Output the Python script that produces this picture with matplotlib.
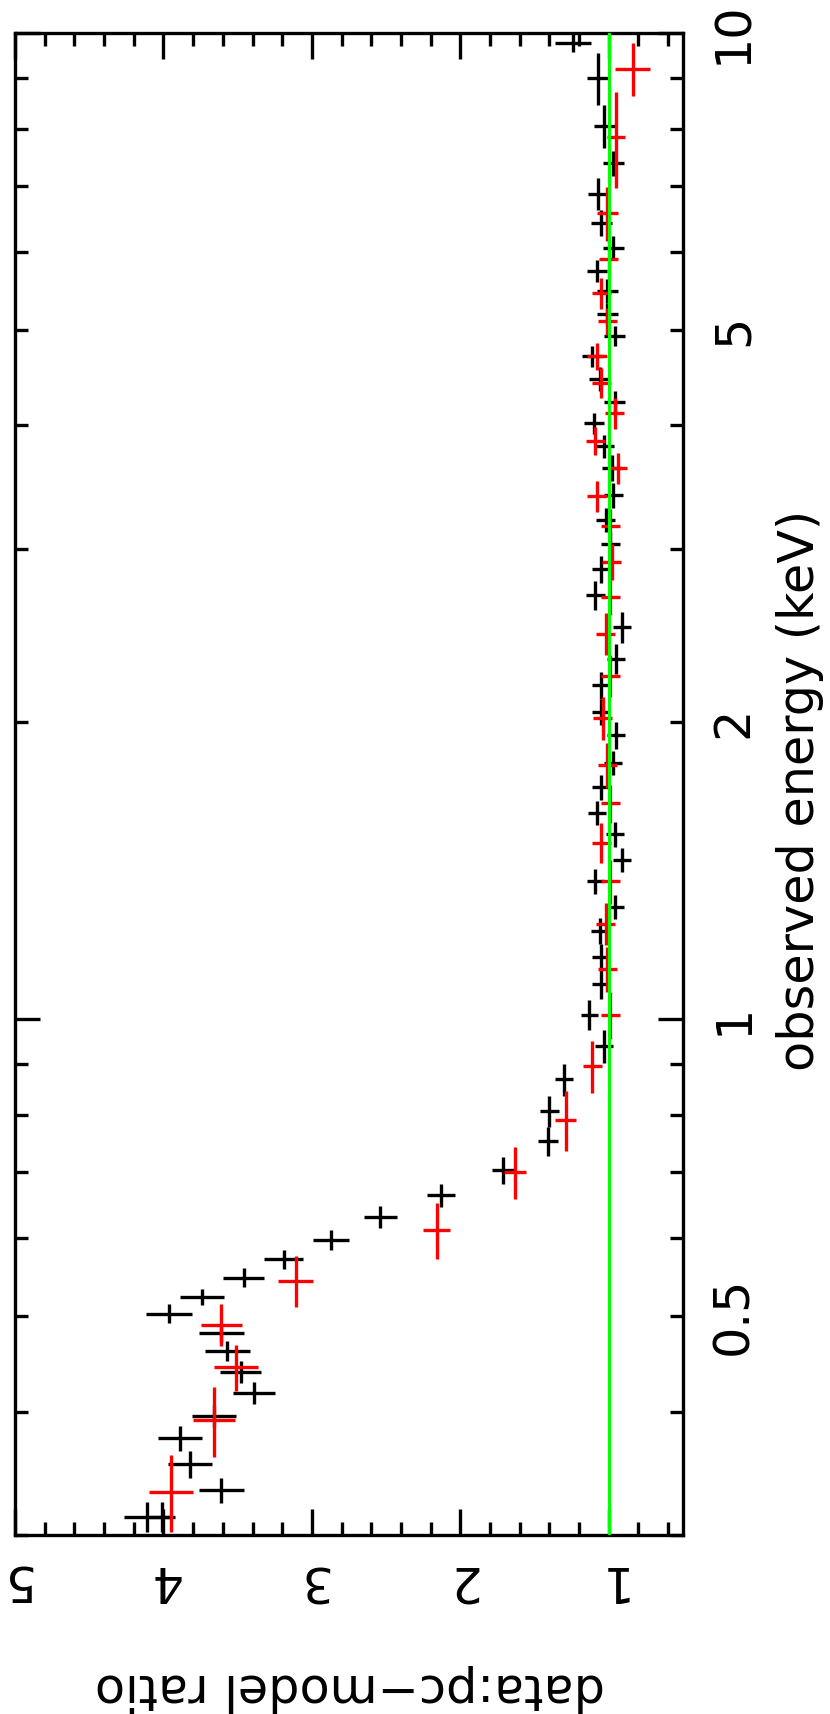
import matplotlib
matplotlib.use('Agg')
import matplotlib.pyplot as plt
from matplotlib.ticker import FixedLocator, FuncFormatter, NullFormatter

plt.rcParams['font.family'] = ['DejaVu Sans']

# black data set: energy (keV), energy half-width, data/model ratio, ratio error
black_energy = [0.313, 0.313, 0.333, 0.354, 0.376, 0.396, 0.418, 0.439, 0.461, 0.481,
                0.503, 0.523, 0.547, 0.571, 0.598, 0.630, 0.663, 0.703, 0.752, 0.807,
                0.869, 0.939, 1.01, 1.085, 1.156, 1.23, 1.30, 1.38, 1.45, 1.54,
                1.62, 1.72, 1.82, 1.94, 2.05, 2.18, 2.32, 2.50, 2.69, 2.86,
                3.03, 3.21, 3.40, 3.62, 3.81, 4.02, 4.23, 4.46, 4.70, 4.93,
                5.19, 5.48, 5.74, 6.06, 6.42, 6.87, 7.38, 8.05, 9.0, 9.77]
black_energy_err = [0.011, 0.011, 0.010, 0.011, 0.011, 0.010, 0.011, 0.011, 0.011, 0.010,
                    0.011, 0.010, 0.012, 0.013, 0.014, 0.016, 0.018, 0.022, 0.026, 0.029,
                    0.032, 0.036, 0.035, 0.036, 0.036, 0.037, 0.037, 0.04, 0.04, 0.045,
                    0.045, 0.05, 0.05, 0.06, 0.06, 0.07, 0.08, 0.09, 0.09, 0.09,
                    0.09, 0.09, 0.10, 0.11, 0.10, 0.10, 0.11, 0.12, 0.12, 0.12,
                    0.14, 0.15, 0.15, 0.17, 0.2, 0.25, 0.22, 0.4, 0.55, 0.2]
black_ratio = [4.11, 4.01, 3.61, 3.82, 3.89, 3.66, 3.39, 3.48, 3.57, 3.61,
               3.96, 3.74, 3.46, 3.19, 2.87, 2.54, 2.13, 1.71, 1.41, 1.40,
               1.30, 1.03, 1.13, 1.05, 1.05, 1.06, 0.96, 1.09, 0.91, 0.96,
               1.08, 1.05, 0.97, 0.95, 1.05, 1.05, 0.95, 0.91, 1.09, 1.05,
               0.99, 1.02, 0.97, 0.98, 1.03, 1.10, 0.96, 1.06, 1.11, 0.96,
               1.01, 1.01, 1.08, 0.97, 1.05, 1.07, 0.97, 1.03, 1.07, 1.24]
black_ratio_err = [0.155, 0.09, 0.15, 0.15, 0.15, 0.15, 0.14, 0.14, 0.15, 0.15,
                   0.155, 0.15, 0.14, 0.13, 0.12, 0.11, 0.095, 0.08, 0.07, 0.065,
                   0.06, 0.06, 0.057, 0.06, 0.06, 0.06, 0.06, 0.06, 0.06, 0.06,
                   0.06, 0.063, 0.06, 0.06, 0.06, 0.06, 0.06, 0.06, 0.065, 0.065,
                   0.065, 0.065, 0.065, 0.065, 0.065, 0.07, 0.07, 0.07, 0.07, 0.07,
                   0.07, 0.07, 0.07, 0.07, 0.07, 0.07, 0.07, 0.07, 0.08, 0.12]

# red data set
red_energy = [0.332, 0.392, 0.444, 0.490, 0.543, 0.611, 0.70, 0.79, 0.896,
              1.01, 1.125, 1.25, 1.38, 1.51, 1.655, 1.81, 2.02,
              2.23, 2.46, 2.68, 2.91, 3.16, 3.39, 3.62, 3.86,
              4.12, 4.42, 4.70, 5.10, 5.45, 5.90, 6.57, 7.84, 9.20]
red_energy_err = [0.03, 0.032, 0.024, 0.024, 0.032, 0.04, 0.043, 0.055, 0.055,
                  0.056, 0.06, 0.062, 0.07, 0.07, 0.075, 0.095, 0.1,
                  0.11, 0.12, 0.11, 0.12, 0.13, 0.12, 0.13, 0.13,
                  0.15, 0.15, 0.15, 0.16, 0.2, 0.26, 0.41, 0.87, 0.57]
red_ratio = [3.95, 3.66, 3.51, 3.61, 3.11, 2.16, 1.63, 1.29, 1.11,
             0.99, 1.01, 1.02, 0.99, 1.05, 0.99, 1.01, 1.04,
             0.99, 1.02, 0.99, 0.98, 0.99, 1.08, 0.94, 1.09,
             0.96, 1.05, 1.08, 1.01, 1.05, 1.00, 1.01, 0.95, 0.84]
red_ratio_err = [0.15, 0.14, 0.15, 0.14, 0.12, 0.09, 0.075, 0.07, 0.065,
                 0.065, 0.065, 0.065, 0.065, 0.065, 0.065, 0.065, 0.065,
                 0.065, 0.065, 0.065, 0.065, 0.065, 0.065, 0.065, 0.065,
                 0.065, 0.065, 0.065, 0.065, 0.065, 0.065, 0.07, 0.06, 0.12]

model_ratio = 1.0
ratio_ticks = [1, 2, 3, 4, 5]
ratio_minor = [0.6, 0.8, 1.2, 1.4, 1.6, 1.8, 2.2, 2.4, 2.6, 2.8,
               3.2, 3.4, 3.6, 3.8, 4.2, 4.4, 4.6, 4.8]
energy_major = [1, 10]
energy_minor = [0.3, 0.4, 0.5, 0.6, 0.7, 0.8, 0.9, 2, 3, 4, 5, 6, 7, 8, 9]
energy_labels = {0.5: '0.5', 1: '1', 2: '2', 5: '5', 10: '10'}

FS = 35.5
LW = 2.4

fig = plt.figure(figsize=(8.3, 17.14), dpi=100)
ax = fig.add_axes([15 / 830, 1 - 1535 / 1714, 668 / 830, 1502 / 1714])

ax.errorbar(black_ratio, black_energy, xerr=black_ratio_err, yerr=black_energy_err,
            fmt='none', ecolor='black', elinewidth=LW, capsize=0, zorder=2)
ax.errorbar(red_ratio, red_energy, xerr=red_ratio_err, yerr=red_energy_err,
            fmt='none', ecolor='#ff0000', elinewidth=LW, capsize=0, zorder=3)
ax.axvline(model_ratio, color='#00ff00', lw=2.2, zorder=4)

ax.set_yscale('log')
ax.set_xlim(5, 0.5)
ax.set_ylim(0.3, 10)

for s in ax.spines.values():
    s.set_linewidth(LW)

ax.xaxis.set_major_locator(FixedLocator(ratio_ticks))
ax.xaxis.set_minor_locator(FixedLocator(ratio_minor))
ax.yaxis.set_major_locator(FixedLocator(energy_major))
ax.yaxis.set_minor_locator(FixedLocator(energy_minor))
lab = FuncFormatter(lambda v, p: energy_labels.get(round(v, 2), ''))
ax.yaxis.set_major_formatter(lab)
ax.yaxis.set_minor_formatter(lab)
ax.xaxis.set_major_formatter(FuncFormatter(lambda v, p: '%d' % v))
ax.xaxis.set_minor_formatter(NullFormatter())

ax.tick_params(axis='x', which='both', direction='in', top=True, bottom=True, width=LW,
               labelsize=FS, pad=15, labelrotation=180)
ax.tick_params(axis='x', which='major', length=18.7)
ax.tick_params(axis='x', which='minor', length=9.4)
ax.tick_params(axis='y', which='both', direction='in', left=True, right=True, width=LW,
               labelleft=False, labelright=True, labelsize=FS, pad=19, labelrotation=90)
ax.tick_params(axis='y', which='major', length=18)
ax.tick_params(axis='y', which='minor', length=9.4)
for t in ax.yaxis.get_majorticklabels() + ax.yaxis.get_minorticklabels():
    t.set_va('center')

fig.text(800 / 830, 1 - 790 / 1714, 'observed energy (keV)', rotation=90,
         ha='center', va='center', fontsize=FS)
fig.text(350 / 830, 1 - 1688 / 1714, 'data:pc\u2212model ratio', rotation=180,
         ha='center', va='center', fontsize=FS)

fig.savefig('out.png', dpi=100)
